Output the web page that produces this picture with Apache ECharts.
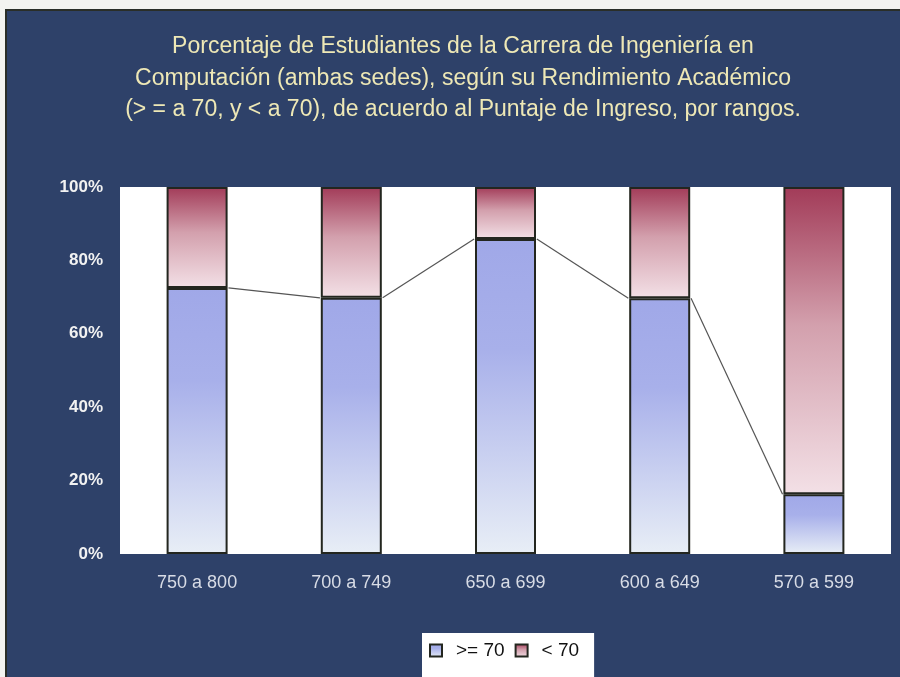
<!DOCTYPE html>
<html>
<head>
<meta charset="utf-8">
<script src="https://cdn.jsdelivr.net/npm/echarts@6/dist/echarts.min.js"></script>
<style>
html,body{margin:0;padding:0;background:#f3f3f0;}
#chart{width:900px;height:677px;}
</style>
</head>
<body>
<div id="chart"></div>
<script>
const categories = ['750 a 800', '700 a 749', '650 a 699', '600 a 649', '570 a 599'];
const geq70 = [72.5, 69.8, 85.8, 69.7, 16.3];
const lt70 = [27.5, 30.2, 14.2, 30.3, 83.7];
const yTicks = [0, 20, 40, 60, 80, 100];
const seriesNames = ['>= 70', '< 70'];
const titleText = 'Porcentaje de Estudiantes de la Carrera de Ingeniería en\nComputación (ambas sedes), según su Rendimiento Académico\n(> = a 70, y < a 70), de acuerdo al Puntaje de Ingreso, por rangos.';

const chart = echarts.init(document.getElementById('chart'));

const blueGrad = new echarts.graphic.LinearGradient(0, 0, 0, 1, [
  {offset: 0, color: '#a0a8e8'},
  {offset: 0.35, color: '#a8b0ea'},
  {offset: 1, color: '#e8eef6'}
]);
const redGrad = new echarts.graphic.LinearGradient(0, 0, 0, 1, [
  {offset: 0, color: '#a23b58'},
  {offset: 0.45, color: '#d3a0ad'},
  {offset: 1, color: '#f3e0e6'}
]);

const lineData = geq70.map((v, i) => [i, v, i < geq70.length - 1 ? geq70[i + 1] : v]);
const FONT = 'Liberation Sans, Arial, sans-serif';

chart.setOption({
  backgroundColor: '#f3f3f0',
  animation: false,
  graphic: [{
    type: 'rect',
    shape: {x: 6, y: 10, width: 900, height: 680},
    style: {fill: '#2e4169', stroke: '#2a2e28', lineWidth: 2},
    z: -10, silent: true
  }],
  title: {
    text: titleText,
    left: 458,
    textAlign: 'center',
    top: 26,
    textStyle: {
      color: '#eee8b6',
      fontFamily: FONT,
      fontSize: 23,
      fontWeight: 'normal',
      lineHeight: 31.5
    }
  },
  legend: {
    data: seriesNames,
    icon: 'rect',
    left: 422,
    top: 633,
    backgroundColor: '#ffffff',
    borderRadius: 0,
    padding: [8, 15, 24, 7],
    itemWidth: 12,
    itemHeight: 12,
    itemGap: 10,
    itemStyle: {borderWidth: 2, borderColor: '#23261f'},
    textStyle: {color: '#111', fontSize: 19, fontFamily: FONT, padding: [0, 0, 0, 9]}
  },
  grid: {
    left: 120, right: 9, top: 187, bottom: 123,
    show: true, backgroundColor: '#ffffff', borderWidth: 0
  },
  xAxis: {
    type: 'category',
    data: categories,
    axisLine: {show: false},
    axisTick: {show: false},
    axisLabel: {color: '#d8dce6', fontSize: 18, margin: 20, fontFamily: FONT}
  },
  yAxis: {
    type: 'value',
    min: 0, max: 100, interval: 20,
    axisLine: {show: false},
    axisTick: {show: false},
    splitLine: {show: false},
    axisLabel: {
      color: '#f2f2f2', fontSize: 17, fontWeight: 'bold', margin: 17,
      fontFamily: FONT,
      formatter: v => yTicks.includes(v) ? v + '%' : ''
    }
  },
  series: [
    {
      name: seriesNames[0], type: 'bar', stack: 'total', barWidth: 61,
      data: geq70,
      itemStyle: {color: blueGrad, borderColor: '#23261f', borderWidth: 2}
    },
    {
      name: seriesNames[1], type: 'bar', stack: 'total', barWidth: 61,
      data: lt70,
      itemStyle: {color: redGrad, borderColor: '#23261f', borderWidth: 2}
    },
    {
      type: 'custom',
      silent: true,
      data: lineData,
      z: 5,
      renderItem: function (params, api) {
        const i = api.value(0);
        if (i >= categories.length - 1) return null;
        const half = api.size([1, 0])[0] * 0.2 + 0.5;
        const p0 = api.coord([i, api.value(1)]);
        const p1 = api.coord([i + 1, api.value(2)]);
        return {
          type: 'line',
          shape: {x1: p0[0] + half, y1: p0[1], x2: p1[0] - half, y2: p1[1]},
          style: {stroke: '#555', lineWidth: 1.2}
        };
      }
    }
  ]
});
</script>
</body>
</html>
